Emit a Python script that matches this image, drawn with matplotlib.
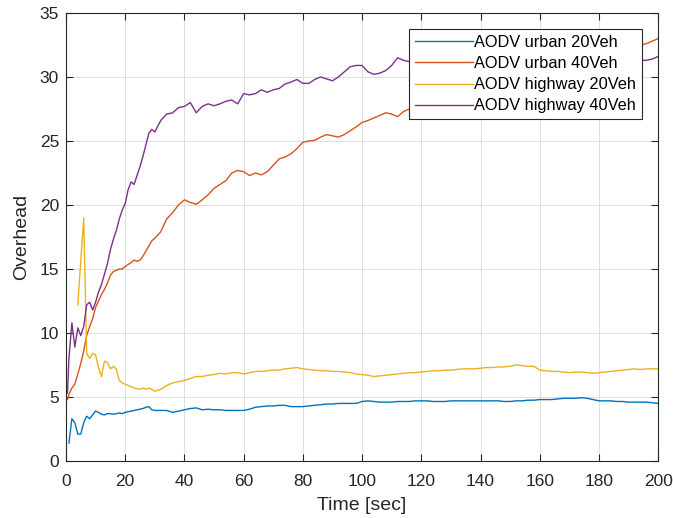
import numpy as np
import matplotlib.pyplot as plt

plt.rcParams['font.family'] = ['Liberation Sans', 'DejaVu Sans']

nan = np.nan

# time grid (sec)
time = [0.5] + list(range(1, 31)) + list(range(32, 201, 2))

urban_20 = [nan, 1.4, 3.3, 3.0, 2.1, 2.1, 3.0, 3.5, 3.3, 3.6, 3.9,
            3.8, 3.65, 3.6, 3.7, 3.7, 3.65, 3.7, 3.75, 3.7, 3.8,
            3.85, 3.9, 3.95, 4.0, 4.05, 4.1, 4.2, 4.25, 4.0, 3.95,
            3.95, 3.95, 3.8, 3.9, 4.0, 4.1, 4.15, 4.0, 4.05, 4.0,
            4.0, 3.95, 3.95, 3.95, 3.95, 4.05, 4.2, 4.25, 4.3, 4.3,
            4.35, 4.35, 4.25, 4.25, 4.25, 4.3, 4.35, 4.4, 4.45, 4.45,
            4.5, 4.5, 4.5, 4.5, 4.65, 4.7, 4.65, 4.6, 4.6, 4.6,
            4.65, 4.65, 4.65, 4.7, 4.7, 4.7, 4.65, 4.65, 4.65, 4.7,
            4.7, 4.7, 4.7, 4.7, 4.7, 4.7, 4.7, 4.7, 4.65, 4.65,
            4.7, 4.7, 4.75, 4.75, 4.8, 4.8, 4.8, 4.85, 4.9, 4.9,
            4.9, 4.95, 4.9, 4.8, 4.7, 4.7, 4.7, 4.65, 4.65, 4.6,
            4.6, 4.6, 4.6, 4.55, 4.5]

urban_40 = [4.8, 5.2, 5.7, 6.0, 6.8, 7.6, 8.6, 9.8, 10.5, 11.1, 12.0,
            12.5, 13.0, 13.4, 13.9, 14.5, 14.8, 14.9, 15.0, 15.0, 15.2,
            15.35, 15.5, 15.7, 15.6, 15.7, 16.0, 16.4, 16.8, 17.2, 17.4,
            17.9, 18.9, 19.4, 20.0, 20.4, 20.2, 20.05, 20.4, 20.8, 21.3,
            21.6, 21.9, 22.5, 22.7, 22.6, 22.3, 22.5, 22.35, 22.6, 23.1,
            23.6, 23.75, 24.0, 24.4, 24.9, 25.0, 25.05, 25.3, 25.5, 25.4,
            25.3, 25.5, 25.8, 26.1, 26.45, 26.6, 26.8, 27.0, 27.2, 27.1,
            26.9, 27.3, 27.5, 27.6, 27.8, 28.0, 28.1, 28.3, 28.5, 28.6,
            28.8, 29.0, 29.1, 29.3, 29.5, 29.6, 29.8, 30.0, 30.1, 30.3,
            30.5, 30.6, 30.8, 30.9, 31.1, 31.2, 31.4, 31.5, 31.7, 31.8,
            31.9, 32.0, 32.2, 32.3, 32.4, 32.4, 32.5, 32.5, 32.6, 32.6,
            32.5, 32.5, 32.6, 32.8, 33.0]

highway_20 = [nan, nan, nan, nan, 12.2, 15.6, 19.0, 8.4, 8.0, 8.4, 8.3,
              7.3, 6.6, 7.8, 7.7, 7.2, 7.4, 7.2, 6.3, 6.1, 6.0,
              5.9, 5.8, 5.7, 5.65, 5.6, 5.7, 5.6, 5.7, 5.6, 5.45,
              5.6, 5.9, 6.1, 6.2, 6.3, 6.45, 6.6, 6.6, 6.7, 6.75,
              6.85, 6.8, 6.9, 6.9, 6.8, 6.9, 7.0, 7.0, 7.05, 7.1,
              7.1, 7.2, 7.25, 7.3, 7.2, 7.15, 7.1, 7.05, 7.05, 7.0,
              7.0, 6.95, 6.9, 6.8, 6.75, 6.7, 6.6, 6.65, 6.7, 6.75,
              6.8, 6.85, 6.9, 6.9, 6.95, 7.0, 7.05, 7.05, 7.1, 7.1,
              7.15, 7.2, 7.2, 7.2, 7.25, 7.3, 7.3, 7.35, 7.35, 7.4,
              7.5, 7.45, 7.4, 7.4, 7.1, 7.05, 7.0, 7.0, 6.95, 6.9,
              6.95, 6.95, 6.9, 6.85, 6.9, 6.95, 7.0, 7.05, 7.1, 7.15,
              7.2, 7.15, 7.2, 7.2, 7.2]

highway_40 = [5.3, 8.0, 10.8, 8.9, 10.4, 9.8, 10.5, 12.2, 12.4, 11.8, 12.4,
              13.2, 13.8, 14.6, 15.4, 16.5, 17.3, 18.0, 18.9, 19.6, 20.1,
              21.2, 21.8, 21.6, 22.3, 23.0, 23.8, 24.7, 25.6, 25.9, 25.7,
              26.6, 27.1, 27.2, 27.6, 27.7, 28.0, 27.2, 27.7, 27.9, 27.75,
              27.9, 28.1, 28.2, 27.9, 28.7, 28.6, 28.7, 29.0, 28.8, 29.0,
              29.1, 29.45, 29.6, 29.8, 29.5, 29.5, 29.8, 30.0, 29.85, 29.7,
              30.0, 30.4, 30.8, 30.9, 30.9, 30.4, 30.2, 30.3, 30.5, 30.9,
              31.5, 31.3, 31.2, 31.0, 31.1, 31.3, 31.4, 31.2, 31.0, 31.1,
              31.3, 31.5, 31.4, 31.2, 31.3, 31.5, 31.6, 31.4, 31.2, 31.3,
              31.4, 31.6, 31.5, 31.3, 31.2, 31.4, 31.5, 31.3, 31.2, 31.3,
              31.4, 31.3, 31.2, 31.3, 31.2, 31.3, 31.4, 31.3, 31.2, 31.3,
              31.2, 31.3, 31.3, 31.4, 31.6]

labels = ['AODV urban 20Veh', 'AODV urban 40Veh',
          'AODV highway 20Veh', 'AODV highway 40Veh']
colors = ['#0072BD', '#D95319', '#EDB120', '#7E2F8E']

fig = plt.figure(figsize=(6.73, 5.18), dpi=100)
ax = fig.add_axes([0.098, 0.110, 0.880, 0.865])

for ys, lab, c in zip([urban_20, urban_40, highway_20, highway_40], labels, colors):
    ax.plot(time, ys, color=c, lw=1.0, label=lab)

ax.set_xlim(0, 200)
ax.set_ylim(0, 35)
ax.set_xticks(range(0, 201, 20))
ax.set_yticks(range(0, 36, 5))
ax.grid(True, color='#dedede', lw=0.7)
ax.set_axisbelow(True)
ax.tick_params(direction='in', top=True, right=True, length=5, width=0.8,
               labelsize=12.5, colors='#262626')
ax.tick_params(axis='x', pad=9)
ax.tick_params(axis='y', pad=5)
for s in ax.spines.values():
    s.set_color('#262626')
    s.set_linewidth(0.8)

ax.set_xlabel('Time [sec]', fontsize=14, color='#262626', labelpad=6)
ax.set_ylabel('Overhead', fontsize=14, color='#262626', labelpad=7)

leg = ax.legend(loc='upper right', bbox_to_anchor=(0.973, 0.964), borderaxespad=0,
                fontsize=11.8, handlelength=3.5, handletextpad=0.12, labelspacing=0.38,
                fancybox=False, framealpha=1, edgecolor='#262626', borderpad=0.35)
leg.get_frame().set_linewidth(0.8)

fig.savefig('out.png', dpi=100)
